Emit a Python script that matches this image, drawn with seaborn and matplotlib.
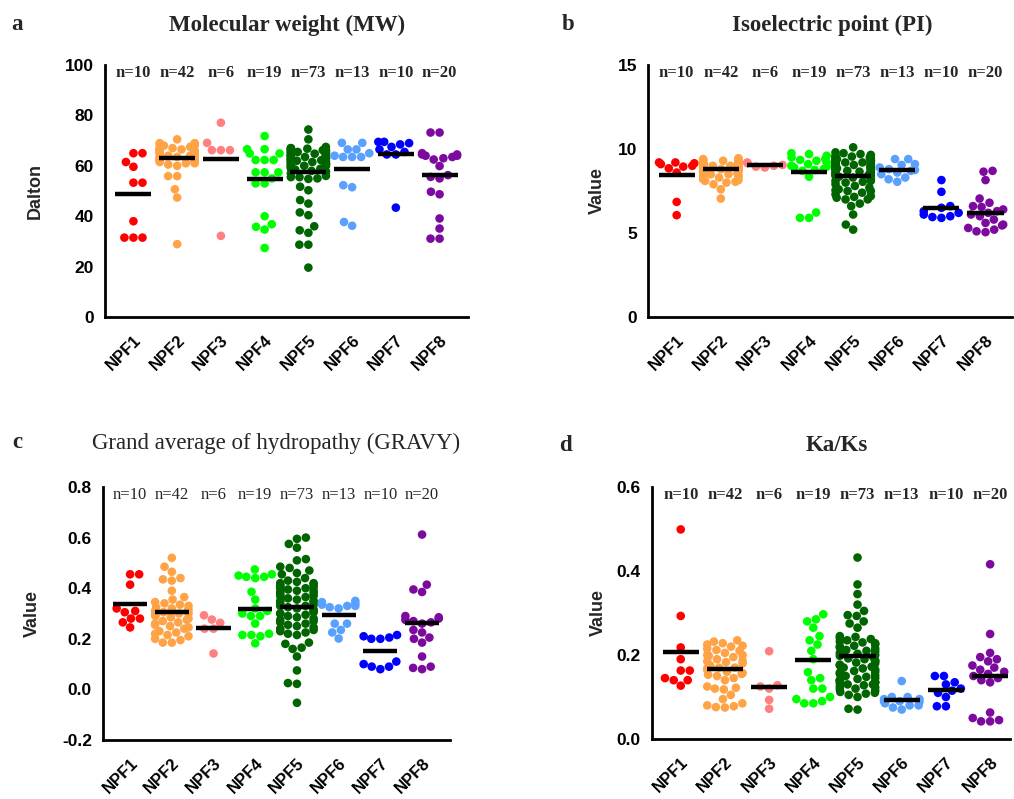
import numpy as np
import pandas as pd
import matplotlib
matplotlib.use("Agg")
import matplotlib.pyplot as plt
import seaborn as sns
import warnings
warnings.filterwarnings("ignore")

groups = ["NPF1", "NPF2", "NPF3", "NPF4", "NPF5", "NPF6", "NPF7", "NPF8"]
colors = ["#FF0000", "#FFA347", "#FF8080", "#00FF00", "#006400", "#5AA0FF", "#0000FF", "#7D0A9E"]
counts = [10, 42, 6, 19, 73, 13, 10, 20]

# ---- Molecular weight (MW) ----
mw1 = [65.0, 65.0, 61.5, 59.6, 53.3, 53.3, 38.0, 31.5, 31.5, 31.5]
mw2 = [70.5, 69.0, 69.0, 68.5, 68.5, 68.0, 68.0, 67.5, 67.0, 67.0, 66.5, 66.5, 66.0, 66.0,
       65.5, 65.5, 65.0, 65.0, 65.0, 64.5, 64.5, 64.0, 64.0, 63.5, 63.5, 63.0, 63.0, 62.5,
       62.5, 62.0, 62.0, 61.5, 61.5, 61.0, 61.0, 60.5, 60.0, 55.9, 55.9, 50.7, 47.4, 28.9]
mw3 = [77.1, 69.1, 66.2, 66.2, 66.2, 32.2]
mw4 = [71.8, 66.6, 66.6, 64.9, 64.9, 62.3, 62.3, 62.3, 57.4, 57.4, 57.4, 55.0, 53.0, 53.0,
       40.0, 36.8, 35.8, 34.7, 27.4]
mw5 = [74.4, 70.5, 67.5, 67.0, 67.0, 66.8, 66.5, 66.5, 66.2, 66.0, 66.0, 65.8, 65.5, 65.5,
       65.2, 65.0, 65.0, 64.8, 64.5, 64.5, 64.2, 64.0, 64.0, 63.8, 63.5, 63.5, 63.2, 63.0,
       63.0, 62.8, 62.5, 62.5, 62.2, 62.0, 62.0, 61.8, 61.5, 61.5, 61.2, 61.0, 61.0, 60.8,
       60.5, 60.5, 60.2, 60.0, 60.0, 60.0, 59.5, 59.0, 58.8, 58.5, 58.0, 57.8, 57.5, 57.0,
       56.0, 55.5, 55.5, 55.0, 54.8, 51.7, 50.3, 46.4, 45.0, 41.5, 40.4, 36.0, 34.4, 33.4,
       28.7, 28.7, 19.6]
mw6 = [69.1, 69.1, 66.5, 66.5, 65.0, 64.0, 63.5, 63.5, 63.5, 52.3, 51.5, 37.7, 36.2]
mw7 = [69.5, 69.5, 69.0, 68.5, 67.5, 66.5, 65.5, 64.5, 64.5, 43.4]
mw8 = [73.2, 73.2, 65.0, 64.5, 64.5, 64.0, 64.0, 63.5, 63.0, 62.5, 59.9, 56.3, 55.6, 55.0,
       49.7, 48.7, 39.1, 35.1, 31.1, 31.1]
mw_means = [49.0, 62.9, 62.8, 54.8, 57.5, 58.9, 64.6, 56.3]

# ---- Isoelectric point (PI) ----
pi1 = [9.2, 9.2, 9.15, 9.1, 9.0, 8.95, 8.85, 8.6, 6.85, 6.06]
pi2 = [9.45, 9.4, 9.4, 9.35, 9.3, 9.3, 9.25, 9.2, 9.2, 9.15, 9.1, 9.1, 9.05, 9.0, 9.0, 9.0,
       8.95, 8.9, 8.9, 8.85, 8.8, 8.8, 8.75, 8.7, 8.7, 8.65, 8.6, 8.55, 8.5, 8.5, 8.45, 8.4,
       8.35, 8.3, 8.2, 8.15, 8.1, 8.05, 8.0, 7.9, 7.6, 7.05]
pi3 = [9.2, 9.15, 9.05, 9.0, 8.95, 8.9]
pi4 = [9.75, 9.7, 9.6, 9.5, 9.4, 9.35, 9.3, 9.2, 9.1, 9.0, 8.95, 8.9, 8.8, 8.75, 8.7, 8.35,
       6.22, 5.9, 5.9]
pi5 = [10.1, 9.8, 9.75, 9.7, 9.65, 9.6, 9.55, 9.5, 9.5, 9.45, 9.4, 9.4, 9.35, 9.3, 9.3, 9.3,
       9.25, 9.2, 9.2, 9.2, 9.15, 9.1, 9.1, 9.05, 9.0, 9.0, 9.0, 8.95, 8.9, 8.9, 8.9, 8.85,
       8.8, 8.8, 8.8, 8.75, 8.7, 8.7, 8.65, 8.6, 8.6, 8.55, 8.5, 8.5, 8.45, 8.4, 8.4, 8.35,
       8.3, 8.2, 8.1, 8.1, 8.05, 8.0, 7.9, 7.8, 7.7, 7.6, 7.55, 7.5, 7.5, 7.4, 7.3, 7.2,
       7.15, 7.1, 7.0, 7.0, 6.75, 6.6, 6.1, 5.5, 5.2]
pi6 = [9.4, 9.4, 9.1, 9.05, 8.9, 8.8, 8.75, 8.7, 8.6, 8.5, 8.3, 8.2, 8.05]
pi7 = [8.15, 7.45, 6.6, 6.5, 6.3, 6.2, 6.1, 6.0, 5.95, 5.9]
pi8 = [8.7, 8.65, 8.15, 7.05, 6.8, 6.6, 6.55, 6.4, 6.3, 6.2, 6.1, 6.0, 5.8, 5.6, 5.5, 5.45,
       5.3, 5.2, 5.1, 5.05]
pi_means = [8.48, 8.82, 9.04, 8.62, 8.38, 8.74, 6.48, 6.18]

# ---- GRAVY ----
gr1 = [0.455, 0.455, 0.414, 0.32, 0.31, 0.305, 0.28, 0.28, 0.265, 0.245]
gr2 = [0.52, 0.485, 0.465, 0.44, 0.435, 0.43, 0.39, 0.365, 0.355, 0.345, 0.34, 0.335, 0.33,
       0.325, 0.32, 0.315, 0.31, 0.31, 0.305, 0.3, 0.3, 0.295, 0.29, 0.285, 0.28, 0.275,
       0.27, 0.265, 0.26, 0.255, 0.25, 0.245, 0.24, 0.23, 0.225, 0.22, 0.215, 0.21, 0.2,
       0.195, 0.185, 0.185]
gr3 = [0.293, 0.276, 0.263, 0.24, 0.24, 0.142]
gr4 = [0.474, 0.455, 0.45, 0.445, 0.445, 0.44, 0.386, 0.355, 0.32, 0.31, 0.3, 0.29, 0.29,
       0.26, 0.22, 0.215, 0.215, 0.21, 0.182]
gr5 = [0.6, 0.595, 0.575, 0.56, 0.515, 0.51, 0.485, 0.48, 0.47, 0.46, 0.455, 0.44, 0.43,
       0.425, 0.42, 0.42, 0.415, 0.41, 0.41, 0.405, 0.4, 0.4, 0.395, 0.39, 0.39, 0.385, 0.38,
       0.375, 0.37, 0.37, 0.365, 0.36, 0.355, 0.35, 0.35, 0.345, 0.34, 0.335, 0.33, 0.33,
       0.325, 0.32, 0.315, 0.31, 0.305, 0.3, 0.3, 0.295, 0.29, 0.285, 0.28, 0.275, 0.27,
       0.265, 0.26, 0.255, 0.25, 0.245, 0.24, 0.235, 0.23, 0.225, 0.22, 0.215, 0.185, 0.18,
       0.165, 0.16, 0.13, 0.075, 0.025, 0.022, -0.053]
gr6 = [0.35, 0.345, 0.34, 0.335, 0.33, 0.33, 0.325, 0.32, 0.26, 0.26, 0.235, 0.225, 0.201]
gr7 = [0.215, 0.21, 0.205, 0.2, 0.2, 0.11, 0.1, 0.09, 0.09, 0.08]
gr8 = [0.612, 0.414, 0.395, 0.385, 0.29, 0.285, 0.28, 0.275, 0.27, 0.265, 0.26, 0.235,
       0.225, 0.205, 0.2, 0.185, 0.13, 0.09, 0.085, 0.08]
gr_means = [0.336, 0.304, 0.243, 0.316, 0.326, 0.296, 0.151, 0.263]

# ---- Ka/Ks ----
kk1 = [0.499, 0.293, 0.218, 0.19, 0.163, 0.163, 0.145, 0.14, 0.14, 0.127]
kk2 = [0.235, 0.232, 0.228, 0.225, 0.222, 0.22, 0.215, 0.212, 0.21, 0.205, 0.2, 0.2, 0.198,
       0.195, 0.19, 0.187, 0.185, 0.183, 0.18, 0.175, 0.17, 0.17, 0.168, 0.165, 0.16, 0.157,
       0.155, 0.153, 0.15, 0.145, 0.14, 0.125, 0.122, 0.12, 0.118, 0.105, 0.095, 0.085, 0.08,
       0.078, 0.076, 0.075]
kk3 = [0.209, 0.128, 0.125, 0.12, 0.093, 0.072]
kk4 = [0.297, 0.285, 0.28, 0.265, 0.245, 0.235, 0.225, 0.21, 0.19, 0.159, 0.145, 0.14, 0.12,
       0.12, 0.1, 0.095, 0.09, 0.085, 0.085]
kk5 = [0.432, 0.368, 0.345, 0.32, 0.305, 0.295, 0.293, 0.28, 0.275, 0.265, 0.245, 0.243,
       0.24, 0.238, 0.235, 0.232, 0.23, 0.228, 0.225, 0.222, 0.22, 0.218, 0.215, 0.212, 0.21,
       0.208, 0.205, 0.203, 0.2, 0.198, 0.195, 0.192, 0.19, 0.187, 0.185, 0.182, 0.18, 0.177,
       0.175, 0.172, 0.17, 0.168, 0.165, 0.162, 0.16, 0.158, 0.155, 0.152, 0.15, 0.148, 0.145,
       0.143, 0.14, 0.14, 0.138, 0.135, 0.135, 0.133, 0.13, 0.13, 0.128, 0.125, 0.123, 0.12,
       0.118, 0.115, 0.112, 0.11, 0.108, 0.105, 0.1, 0.072, 0.07]
kk6 = [0.138, 0.1, 0.1, 0.095, 0.095, 0.09, 0.09, 0.088, 0.085, 0.08, 0.08, 0.075, 0.07]
kk7 = [0.15, 0.15, 0.135, 0.13, 0.12, 0.115, 0.11, 0.1, 0.078, 0.078]
kk8 = [0.416, 0.25, 0.205, 0.195, 0.19, 0.185, 0.175, 0.17, 0.165, 0.16, 0.155, 0.15, 0.145,
       0.14, 0.135, 0.063, 0.05, 0.045, 0.042, 0.042]
kk_means = [0.208, 0.167, 0.124, 0.189, 0.198, 0.092, 0.116, 0.149]

panels = [
    dict(letter="a", title="Molecular weight (MW)", tbold=True, ylabel="Dalton",
         data=[mw1, mw2, mw3, mw4, mw5, mw6, mw7, mw8], means=mw_means,
         ylim=(0, 100), yticks=[0, 20, 40, 60, 80, 100], fmt="{:.0f}",
         rect=(105, 65, 468, 317), xmax=7.65, labx=-0.17, title_xy=(287, 25), letter_xy=(17, 25)),
    dict(letter="b", title="Isoelectric point (PI)", tbold=True, ylabel="Value",
         data=[pi1, pi2, pi3, pi4, pi5, pi6, pi7, pi8], means=pi_means,
         ylim=(0, 15), yticks=[0, 5, 10, 15], fmt="{:.0f}",
         rect=(648, 65, 1012, 317), xmax=7.6, labx=-0.115, title_xy=(832, 25), letter_xy=(568, 25)),
    dict(letter="c", title="Grand average of hydropathy (GRAVY)", tbold=False, ylabel="Value",
         data=[gr1, gr2, gr3, gr4, gr5, gr6, gr7, gr8], means=gr_means,
         ylim=(-0.2, 0.8), yticks=[-0.2, 0.0, 0.2, 0.4, 0.6, 0.8], fmt="{:.1f}",
         rect=(103, 487, 450, 740), xmax=7.67, labx=-0.18, title_xy=(276, 443), letter_xy=(17, 443)),
    dict(letter="d", title="Ka/Ks", tbold=True, ylabel="Value",
         data=[kk1, kk2, kk3, kk4, kk5, kk6, kk7, kk8], means=kk_means,
         ylim=(0, 0.6), yticks=[0.0, 0.2, 0.4, 0.6], fmt="{:.1f}",
         rect=(652, 487, 1010, 739), xmax=7.45, labx=-0.125, title_xy=(837, 445), letter_xy=(565, 445)),
]

sns.set_style("white")
plt.rcParams["font.family"] = ["Liberation Sans", "DejaVu Sans"]

W, H = 1014, 799
fig = plt.figure(figsize=(W / 100, H / 100), dpi=100)

for p in panels:
    x0, y0, x1, y1 = p["rect"]
    ax = fig.add_axes([x0 / W, 1 - y1 / H, (x1 - x0) / W, (y1 - y0) / H])
    rows = []
    for g, vals in zip(groups, p["data"]):
        for v in vals:
            rows.append((g, v))
    df = pd.DataFrame(rows, columns=["group", "value"])
    sns.swarmplot(data=df, x="group", y="value", hue="group", order=groups,
                  hue_order=groups, palette=colors, size=6.2, linewidth=0,
                  legend=False, ax=ax, zorder=3)
    xs = np.arange(len(groups))
    ax.hlines(p["means"], xs - 0.41, xs + 0.41, color="black", lw=3.2, zorder=5)
    ax.set_xlim(-0.65, p["xmax"])
    ax.set_ylim(*p["ylim"])
    ax.set_yticks(p["yticks"])
    ax.set_yticklabels([p["fmt"].format(t) for t in p["yticks"]], fontsize=12.5, fontweight="bold")
    ax.set_xticks(xs)
    ax.set_xticklabels(groups, fontsize=12, fontweight="bold", rotation=45,
                       ha="right", va="top", rotation_mode="anchor")
    ax.set_xlabel("")
    ax.set_ylabel(p["ylabel"], fontsize=13, fontweight="bold")
    ax.yaxis.set_label_coords(p["labx"], 0.5)
    for s in ["top", "right"]:
        ax.spines[s].set_visible(False)
    for s in ["left", "bottom"]:
        ax.spines[s].set_linewidth(2.0)
        ax.spines[s].set_color("black")
    ax.tick_params(axis="both", direction="out", width=2.0, length=6, color="black",
                   labelcolor="black", pad=2)
    ax.tick_params(axis="x", pad=5)
    nweight = "bold" if p["tbold"] else "normal"
    for i, n in enumerate(counts):
        ax.text(i, 0.97, f"n={n}", transform=ax.get_xaxis_transform(), ha="center",
                va="center", fontsize=12, fontweight=nweight,
                family=["Liberation Serif", "DejaVu Serif"])
    tx, ty = p["title_xy"]
    fig.text(tx / W, 1 - ty / H, p["title"], ha="center", va="center", fontsize=16.5,
             fontweight="bold" if p["tbold"] else "normal",
             family=["Liberation Serif", "DejaVu Serif"])
    lx, ly = p["letter_xy"]
    fig.text(lx / W, 1 - ly / H, p["letter"], ha="center", va="center", fontsize=16.5,
             fontweight="bold", family=["Liberation Serif", "DejaVu Serif"])

fig.savefig("out.png", dpi=100)
